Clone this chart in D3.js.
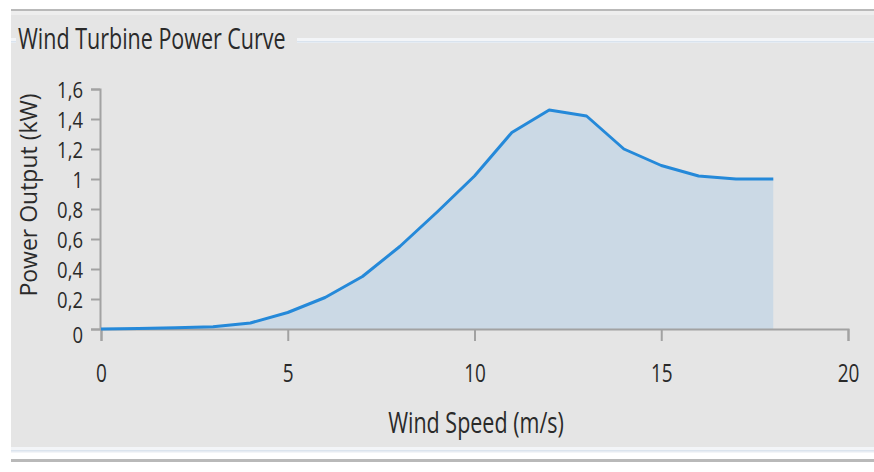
<!DOCTYPE html>
<html><head><meta charset="utf-8">
<script src="https://cdn.jsdelivr.net/npm/d3@7"></script>
<style>
body{margin:0;background:#fff;}
svg{display:block;}
text{font-family:"Open Sans",sans-serif;fill:#2a2a2a;}
</style>
</head><body>
<svg id="c" width="874" height="472"></svg>
<script>
// ---- data ----
const windSpeed   = [0,1,2,3,4,5,6,7,8,9,10,11,12,13,14,15,16,17,18];
const powerOutput = [0,0.003,0.008,0.015,0.04,0.11,0.21,0.35,0.55,0.78,1.02,1.31,1.46,1.42,1.2,1.09,1.02,1.0,1.0];
const xTicks      = [0,5,10,15,20];
const xTickLabels = ["0","5","10","15","20"];
const yTicks      = [0,0.2,0.4,0.6,0.8,1,1.2,1.4,1.6];
const yTickLabels = ["0","0,2","0,4","0,6","0,8","1","1,2","1,4","1,6"];
const titleText   = "Wind Turbine Power Curve";
const xLabelText  = "Wind Speed (m/s)";
const yLabelText  = "Power Output (kW)";

const svg = d3.select("#c");
const K = 1.35;           // vertical glyph stretch of the reference
const KY = 1.22;          // stretch for the y tick labels
const CAP = 0.714;

// ---- frame ----
svg.append("rect").attr("x",0).attr("y",0).attr("width",874).attr("height",472).attr("fill","#ffffff");
svg.append("rect").attr("x",11).attr("y",9).attr("width",863).attr("height",2).attr("fill","#b9b9b9");
svg.append("rect").attr("x",11).attr("y",11).attr("width",863).attr("height",436).attr("fill","#e5e5e5");
svg.append("rect").attr("x",11).attr("y",11).attr("width",863).attr("height",4).attr("fill","#eeeeee");
// group box top line (interrupted by title)
[[11,16],[297,874]].forEach(([a,b])=>{
  svg.append("rect").attr("x",a).attr("y",38).attr("width",b-a).attr("height",5).attr("fill","#f3f5f8");
  svg.append("rect").attr("x",a).attr("y",41).attr("width",b-a).attr("height",1.5).attr("fill","#d9e3ee");
});
// bottom
svg.append("rect").attr("x",11).attr("y",447).attr("width",863).attr("height",6).attr("fill","#f3f5f8");
svg.append("rect").attr("x",11).attr("y",450).attr("width",863).attr("height",1.5).attr("fill","#dbe4ee");
svg.append("rect").attr("x",11).attr("y",459).attr("width",863).attr("height",3).attr("fill","#b9b9b9");

// ---- title ----
const tfs = 21.5;
svg.append("text").text(titleText)
  .attr("font-size",tfs)
  .attr("transform",`translate(18,49) scale(1,${K})`);

// ---- scales ----
const x = d3.scaleLinear().domain([0,20]).range([101,848]);
const y = d3.scaleLinear().domain([0,1.6]).range([329,89]);

// ---- area ----
const pts = windSpeed.map((w,i)=>({w, p: powerOutput[i]}));
svg.append("path").datum(pts)
  .attr("fill","#cbd9e5")
  .attr("d", d3.area().x(d=>x(d.w)).y0(y(0)).y1(d=>y(d.p)));

// ---- axes ----
const fs = 19, fsy = 18.5;
const axisColor = "#a2a2a2";
const yAxis = svg.append("g").attr("transform",`translate(${x(0)-1},0)`)
  .call(d3.axisLeft(y).tickValues(yTicks).tickFormat((d,i)=>yTickLabels[i]).tickSizeInner(9).tickSizeOuter(9));
const xAxis = svg.append("g").attr("transform",`translate(0,${y(0)})`)
  .call(d3.axisBottom(x).tickValues(xTicks).tickFormat((d,i)=>xTickLabels[i]).tickSizeInner(12).tickSizeOuter(12));
[yAxis,xAxis].forEach(g=>{
  g.attr("font-family",null).attr("font-size",null);
  g.selectAll("path,line").attr("stroke",axisColor).attr("stroke-width",2);
  g.selectAll("text").attr("fill","#2a2a2a");
});
yAxis.selectAll("text")
  .attr("font-size",fsy)
  .attr("x",null).attr("dy",null)
  .attr("transform",(d,i)=>`translate(-17,${CAP*fsy*KY/2 + (d===0?5:0)}) scale(1,${KY})`);
xAxis.selectAll("text")
  .attr("font-size",fs)
  .attr("y",null).attr("dy",null)
  .attr("transform",`translate(0,53) scale(1,${K})`);

// ---- line ----
svg.append("path").datum(pts)
  .attr("fill","none")
  .attr("stroke","#2589d9")
  .attr("stroke-width",3)
  .attr("stroke-linejoin","round")
  .attr("d", d3.line().x(d=>x(d.w)).y(d=>y(d.p)));

// ---- axis titles ----
svg.append("text").text(xLabelText)
  .attr("font-size",21.5).attr("text-anchor","middle")
  .attr("transform",`translate(476,433) scale(1,${K})`);
svg.append("text").text(yLabelText)
  .attr("font-size",23).attr("text-anchor","middle")
  .attr("transform",`translate(37,195) rotate(-90)`);
</script>
</body></html>
